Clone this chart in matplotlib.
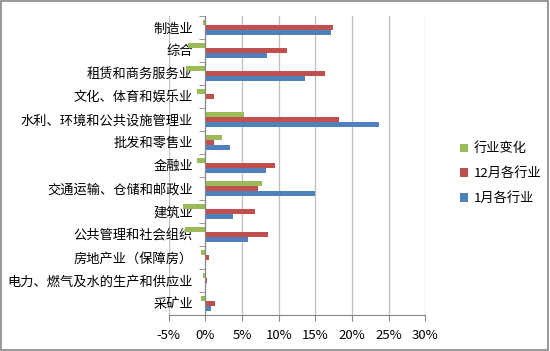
import numpy as np
import matplotlib.pyplot as plt
from matplotlib.patches import Rectangle

plt.rcParams['font.family'] = ['Noto Sans CJK SC', 'DejaVu Sans']

# kategorie od dołu do góry (jak w Excelu)
categories = ['采矿业', '电力、燃气及水的生产和供应业', '房地产业（保障房）', '公共管理和社会组织',
              '建筑业', '交通运输、仓储和邮政业', '金融业', '批发和零售业',
              '水利、环境和公共设施管理业', '文化、体育和娱乐业', '租赁和商务服务业', '综合', '制造业']
jan = [0.8, 0.0, 0.0, 5.8, 3.7, 15.0, 8.2, 3.4, 23.7, 0.0, 13.6, 8.4, 17.1]
dec = [1.3, 0.2, 0.45, 8.6, 6.7, 7.2, 9.5, 1.1, 18.2, 1.1, 16.3, 11.1, 17.45]
change = [-0.6, -0.3, -0.6, -2.8, -3.0, 7.7, -1.1, 2.2, 5.3, -1.2, -2.6, -2.4, -0.4]
xticks = [-5, 0, 5, 10, 15, 20, 25, 30]

fig = plt.figure(figsize=(5.5, 3.51), dpi=100)
fig.patches.append(Rectangle((0.002, 0.003), 0.995, 0.993, transform=fig.transFigure,
                             fill=False, edgecolor='#868686', linewidth=1.2))
ax = fig.add_axes([0.307, 0.103, 0.466, 0.852])

y = np.arange(len(categories))
h = 0.22
ax.barh(y - 0.21, jan, height=h, color='#4F81BD', label='1月各行业', zorder=3)
ax.barh(y, dec, height=h, color='#C0504D', label='12月各行业', zorder=3)
ax.barh(y + 0.21, change, height=h, color='#9BBB59', label='行业变化', zorder=3)

ax.set_xlim(-5, 30)
ax.set_ylim(-0.5, len(categories) - 0.5)
ax.set_xticks(xticks)
ax.set_xticklabels([f'{v}%' for v in xticks], fontsize=9.5)
ax.grid(axis='x', color='#BFBFBF', linewidth=0.9, zorder=0)
ax.tick_params(axis='x', length=4, color='#868686', pad=6)

ax.spines['left'].set_position(('data', 0))
ax.spines['left'].set_color('#868686')
ax.spines['left'].set_zorder(4)
ax.spines['bottom'].set_color('#868686')
ax.spines['top'].set_visible(False)
ax.spines['right'].set_visible(False)

ax.set_yticks(y)
ax.set_yticklabels(categories, fontsize=9.5)
ax.set_yticks(np.arange(-0.5, len(categories)), minor=True)
ax.tick_params(axis='y', which='major', length=0, pad=9)
ax.tick_params(axis='y', which='minor', length=4, color='#868686')

handles, labels = ax.get_legend_handles_labels()
leg = fig.legend(handles[::-1], labels[::-1], loc='center left', bbox_to_anchor=(0.815, 0.505),
                 frameon=False, fontsize=9.5, handlelength=0.6, handleheight=0.6,
                 handletextpad=0.4, labelspacing=0.9)

fig.savefig('out.png', dpi=100)
